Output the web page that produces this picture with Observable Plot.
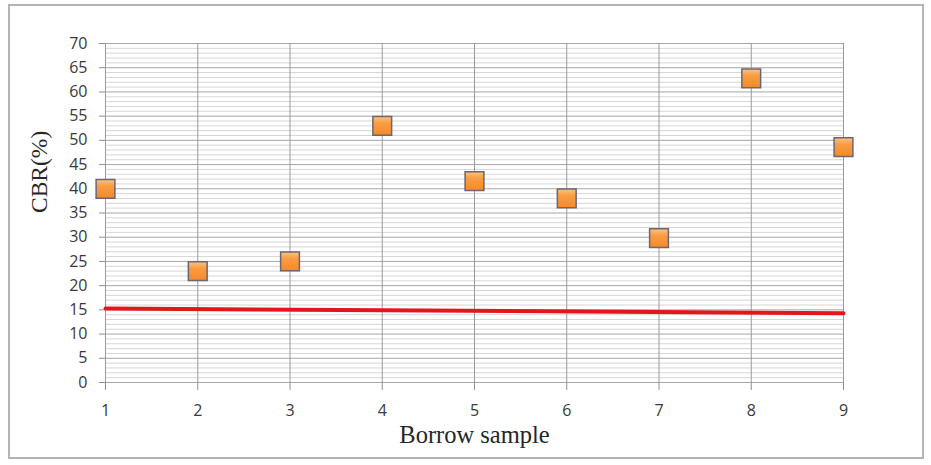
<!DOCTYPE html>
<html>
<head>
<meta charset="utf-8">
<script src="https://cdn.jsdelivr.net/npm/d3@7"></script>
<script src="https://cdn.jsdelivr.net/npm/@observablehq/plot@0.6"></script>
<style>
  html, body { margin: 0; padding: 0; background: #fff; }
  #wrap { position: relative; width: 931px; height: 465px; overflow: hidden; }
  #border { position: absolute; left: 8px; top: 4px; width: 916px; height: 455px; border: 2px solid #b4b4b4; box-sizing: border-box; }
  #chart { position: absolute; left: 0; top: 0; }
</style>
</head>
<body>
<div id="wrap"><div id="border"></div><div id="chart"></div></div>
<script>
const samples = [1, 2, 3, 4, 5, 6, 7, 8, 9];
const cbr = [40, 23, 25, 53, 41.6, 38, 29.8, 62.8, 48.6];
const limitX = [1, 9];
const limitY = [15.3, 14.3];
const yTicks = [0, 5, 10, 15, 20, 25, 30, 35, 40, 45, 50, 55, 60, 65, 70];
const minorY = d3.range(0, 71, 1);
const xLabel = "Borrow sample";
const yLabel = "CBR(%)";

const points = samples.map((s, i) => ({x: s, y: cbr[i]}));
const limit = limitX.map((x, i) => ({x, y: limitY[i]}));

const plot = Plot.plot({
  width: 931,
  height: 465,
  marginLeft: 105,
  marginRight: 88,
  marginTop: 43,
  marginBottom: 83,
  style: {background: "transparent", fontFamily: "'Open Sans', sans-serif", fontSize: "16px", color: "#3a3a3a"},
  x: {domain: [1, 9]},
  y: {domain: [0, 70]},
  marks: [
    Plot.ruleY(minorY.filter(v => v % 5 !== 0), {stroke: "#d6d6d6", strokeWidth: 1}),
    Plot.ruleY(yTicks, {stroke: "#a6a6a6", strokeWidth: 1}),
    Plot.ruleX(samples, {stroke: "#9a9a9a", strokeWidth: 1}),
    Plot.axisY({ticks: yTicks, tickSize: 6, tickPadding: 12, stroke: "#909090", fill: "#3a3a3a", label: null, fontSize: 16}),
    Plot.axisX({ticks: samples, tickSize: 8, tickPadding: 14, stroke: "#909090", fill: "#3a3a3a", label: null, fontSize: 16, tickFormat: d3.format("d")}),
    Plot.line(limit, {x: "x", y: "y", stroke: "#e3161c", strokeWidth: 4}),
    Plot.dot(points, {x: "x", y: "y", symbol: "square", r: 10.6, fill: "url(#mkgrad)", stroke: "#6f6472", strokeWidth: 1.5}),
    Plot.text([xLabel], {frameAnchor: "bottom", dy: 60, fontFamily: "'Liberation Serif', 'Times New Roman', serif", fontSize: 24.5, fill: "#262626"}),
    Plot.text([yLabel], {frameAnchor: "left", dx: -66, rotate: -90, fontFamily: "'Liberation Serif', 'Times New Roman', serif", fontSize: 23.5, fill: "#262626"})
  ]
});

const defs = d3.select(plot).insert("defs", ":first-child");
const g = defs.append("linearGradient").attr("id", "mkgrad").attr("x1", 0).attr("y1", 0).attr("x2", 0).attr("y2", 1);
g.append("stop").attr("offset", "0%").attr("stop-color", "#fcc680");
g.append("stop").attr("offset", "35%").attr("stop-color", "#f99d42");
g.append("stop").attr("offset", "100%").attr("stop-color", "#f48a2a");

document.getElementById("chart").appendChild(plot);
</script>
</body>
</html>
